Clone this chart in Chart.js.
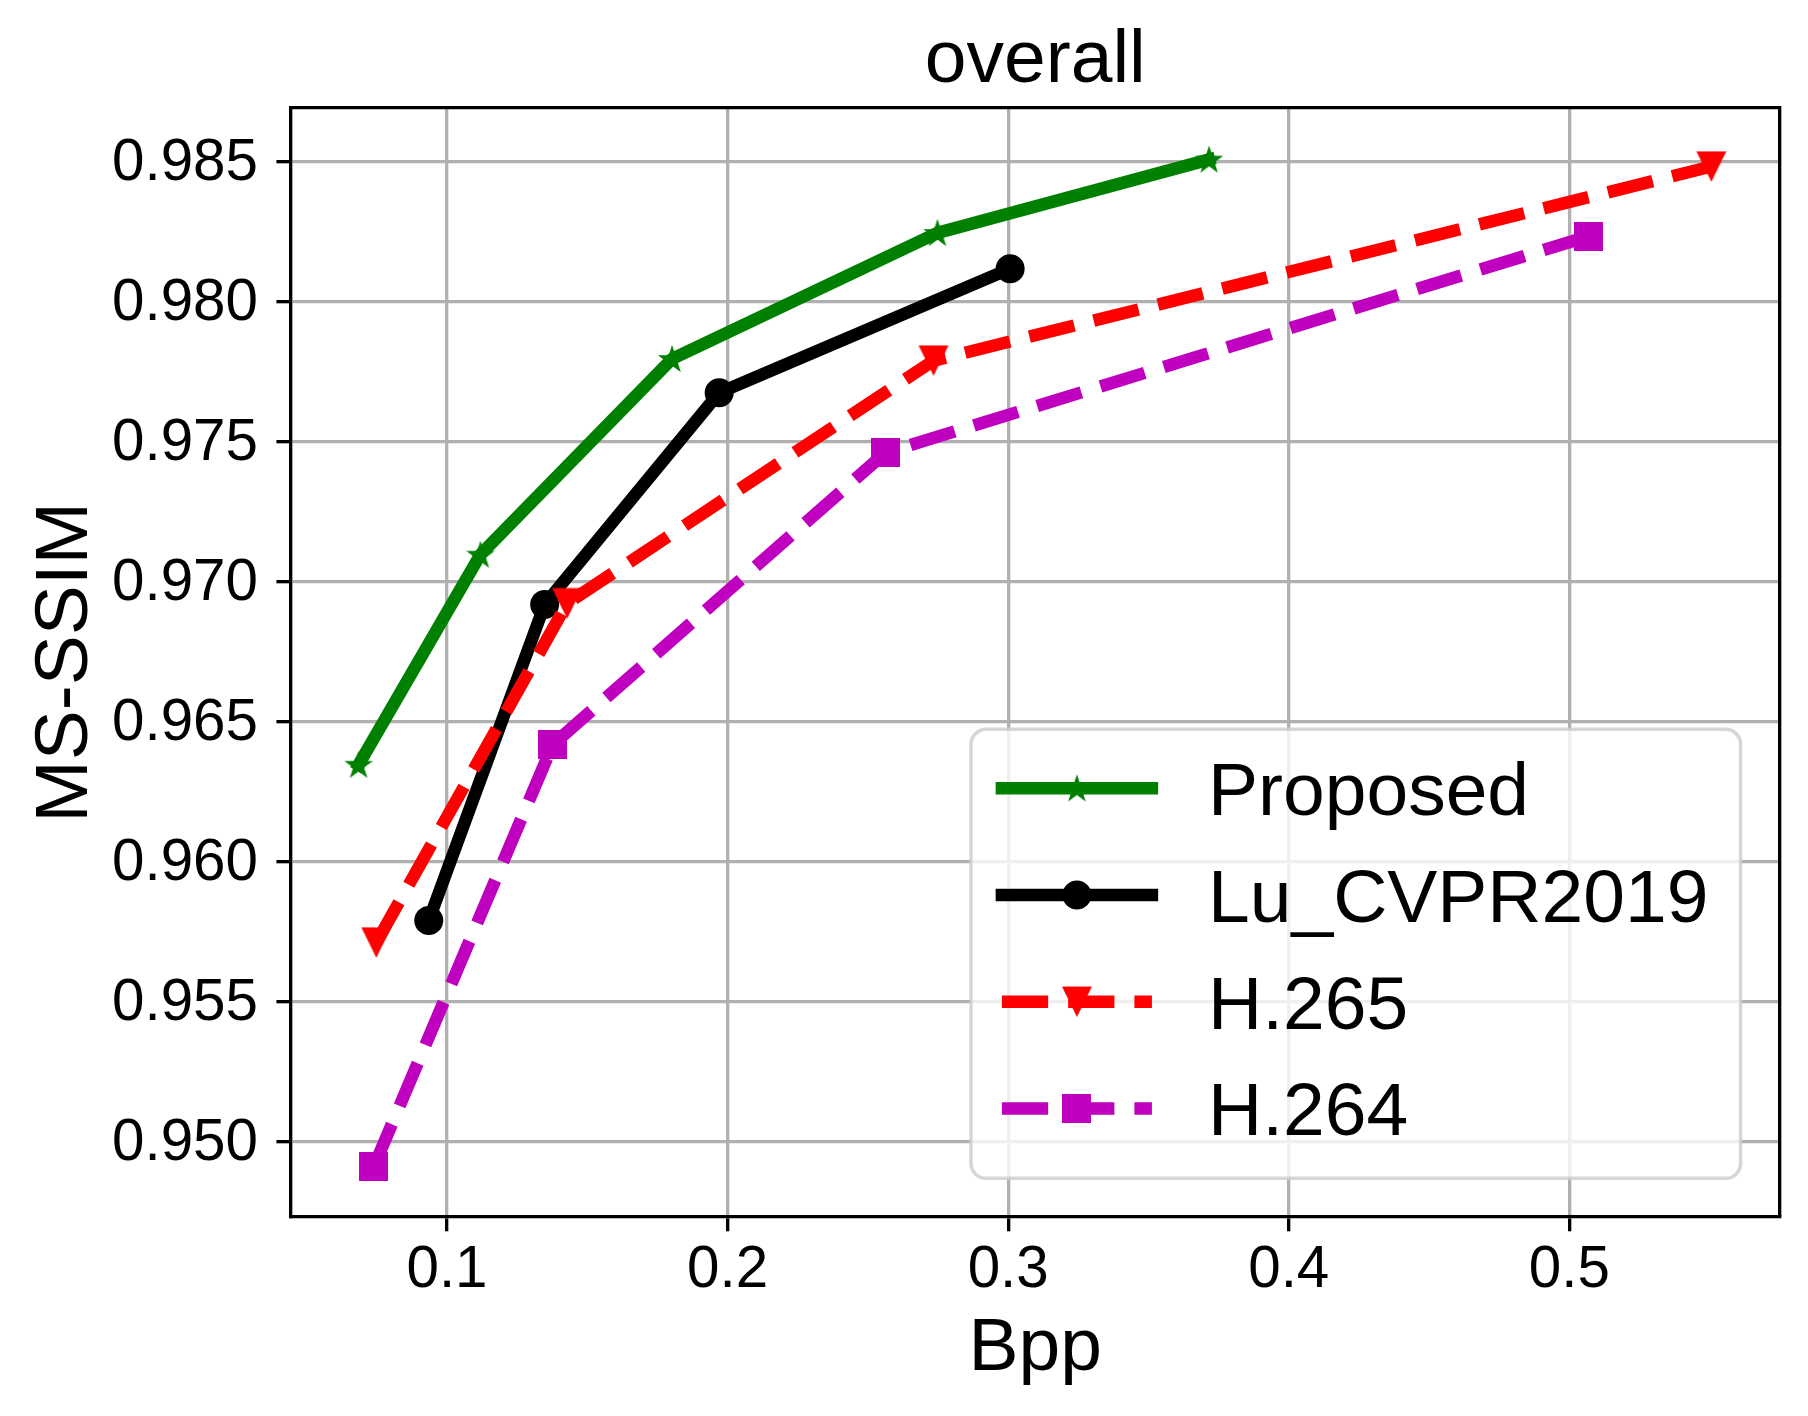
<!DOCTYPE html>
<html>
<head>
<meta charset="utf-8">
<script src="https://cdn.jsdelivr.net/npm/chart.js@4.4.1/dist/chart.umd.min.js"></script>
<style>
html, body { margin: 0; padding: 0; background: #ffffff; }
#c { display: block; }
</style>
</head>
<body>
<canvas id="c" width="1808" height="1416"></canvas>
<script>
// ---- data ----
const seriesNames = ['Proposed', 'Lu_CVPR2019', 'H.265', 'H.264'];
const proposedX = [0.0685, 0.1119, 0.1802, 0.2748, 0.3716];
const proposedY = [0.96345, 0.97095, 0.97794, 0.98244, 0.98506];
const luX = [0.0935, 0.1348, 0.1970, 0.3007];
const luY = [0.95789, 0.96917, 0.97673, 0.98116];
const h265X = [0.0748, 0.1428, 0.2734, 0.5506];
const h265Y = [0.95710, 0.96921, 0.97788, 0.98481];
const h264X = [0.0739, 0.1377, 0.2562, 0.5068];
const h264Y = [0.94909, 0.96417, 0.97459, 0.98232];

const xTicks = [0.1, 0.2, 0.3, 0.4, 0.5];
const xTickLabels = ['0.1', '0.2', '0.3', '0.4', '0.5'];
const yTicks = [0.950, 0.955, 0.960, 0.965, 0.970, 0.975, 0.980, 0.985];
const yTickLabels = ['0.950', '0.955', '0.960', '0.965', '0.970', '0.975', '0.980', '0.985'];

const titleText = 'overall';
const xTitle = 'Bpp';
const yTitle = 'MS-SSIM';

// ---- styling ----
const FONT = '"Liberation Sans", Arial, Helvetica, sans-serif';
const GREEN = '#008000', BLACK = '#000000', RED = '#ff0000', MAGENTA = '#bf00bf';
const LW = 12.5;
const DASH = [46.25, 20];
const GRID = '#b0b0b0';
const GRID_W = 3.33;

function markerCanvas(size, color, drawFn) {
  const cv = document.createElement('canvas');
  cv.width = size; cv.height = size;
  const c = cv.getContext('2d');
  c.fillStyle = color;
  drawFn(c, size / 2);
  return cv;
}
const starMarker = markerCanvas(34, GREEN, (c, m) => {
  const R = 15, r = R * 0.382;
  c.beginPath();
  for (let k = 0; k < 10; k++) {
    const a = -Math.PI / 2 + k * Math.PI / 5;
    const rr = (k % 2 === 0) ? R : r;
    const px = m + rr * Math.cos(a), py = m + 1 + rr * Math.sin(a);
    if (k === 0) c.moveTo(px, py); else c.lineTo(px, py);
  }
  c.closePath(); c.fill();
});
const triMarker = markerCanvas(32, RED, (c, m) => {
  c.beginPath();
  c.moveTo(m - 15, m - 15.3);
  c.lineTo(m + 15, m - 15.3);
  c.lineTo(m, m + 15.3);
  c.closePath(); c.fill();
});
const sqMarker = markerCanvas(29, MAGENTA, (c, m) => {
  c.fillRect(0, 0, 29, 29);
});

function pts(xs, ys) { return xs.map((x, i) => ({ x: x, y: ys[i] })); }

const datasets = [
  { label: seriesNames[0], data: pts(proposedX, proposedY), borderColor: GREEN, backgroundColor: GREEN,
    borderWidth: LW, borderDash: [], borderCapStyle: 'square', borderJoinStyle: 'round',
    pointStyle: starMarker, pointRadius: 15, order: 4 },
  { label: seriesNames[1], data: pts(luX, luY), borderColor: BLACK, backgroundColor: BLACK,
    borderWidth: LW, borderDash: [], borderCapStyle: 'square', borderJoinStyle: 'round',
    pointStyle: 'circle', pointRadius: 14.5, pointBorderWidth: 0, order: 3 },
  { label: seriesNames[2], data: pts(h265X, h265Y), borderColor: RED, backgroundColor: RED,
    borderWidth: LW, borderDash: DASH, borderCapStyle: 'butt', borderJoinStyle: 'round',
    pointStyle: triMarker, pointRadius: 15, order: 2 },
  { label: seriesNames[3], data: pts(h264X, h264Y), borderColor: MAGENTA, backgroundColor: MAGENTA,
    borderWidth: LW, borderDash: DASH, borderCapStyle: 'butt', borderJoinStyle: 'round',
    pointStyle: sqMarker, pointRadius: 15, order: 1 }
];
datasets.forEach(d => {
  d.xAxisID = 'x'; d.yAxisID = 'y'; d.tension = 0; d.fill = false;
  d.pointHoverRadius = d.pointRadius; d.pointBorderColor = d.borderColor;
  d.pointBackgroundColor = d.backgroundColor;
  if (d.pointBorderWidth === undefined) d.pointBorderWidth = 0;
});

// legend drawn in matplotlib style, reading the dataset styles
const legendPlugin = {
  id: 'mplLegend',
  afterDraw(chart) {
    const ctx = chart.ctx;
    const L = 971, T = 729.3, Rt = 1740.6, B = 1178.3, rad = 15;
    ctx.save();
    ctx.globalAlpha = 0.8;
    ctx.beginPath();
    ctx.moveTo(L + rad, T);
    ctx.lineTo(Rt - rad, T); ctx.arcTo(Rt, T, Rt, T + rad, rad);
    ctx.lineTo(Rt, B - rad); ctx.arcTo(Rt, B, Rt - rad, B, rad);
    ctx.lineTo(L + rad, B); ctx.arcTo(L, B, L, B - rad, rad);
    ctx.lineTo(L, T + rad); ctx.arcTo(L, T, L + rad, T, rad);
    ctx.closePath();
    ctx.fillStyle = '#ffffff'; ctx.fill();
    ctx.strokeStyle = '#cccccc'; ctx.lineWidth = 3.5; ctx.stroke();
    ctx.globalAlpha = 1;
    const x0 = 1001.9, x1 = 1151.9, xm = (x0 + x1) / 2;
    chart.data.datasets.forEach((ds, i) => {
      const y = 788.3 + i * 106.7;
      ctx.beginPath();
      ctx.strokeStyle = ds.borderColor; ctx.lineWidth = ds.borderWidth;
      ctx.setLineDash(ds.borderDash || []); ctx.lineCap = ds.borderCapStyle;
      ctx.moveTo(x0, y); ctx.lineTo(x1, y); ctx.stroke();
      ctx.setLineDash([]);
      const ps = ds.pointStyle;
      if (ps instanceof HTMLCanvasElement) {
        ctx.drawImage(ps, xm - ps.width / 2, y - ps.height / 2);
      } else {
        ctx.beginPath(); ctx.fillStyle = ds.backgroundColor;
        ctx.arc(xm, y, ds.pointRadius, 0, Math.PI * 2); ctx.fill();
      }
      ctx.fillStyle = '#000000';
      ctx.font = '75px ' + FONT;
      ctx.textBaseline = 'alphabetic'; ctx.textAlign = 'left';
      ctx.fillText(ds.label, 1208, y + 27);
    });
    ctx.restore();
  }
};

Chart.defaults.color = '#000000';
Chart.defaults.font.family = FONT;

new Chart(document.getElementById('c'), {
  type: 'line',
  data: { datasets: datasets },
  options: {
    responsive: false,
    animation: false,
    devicePixelRatio: 1,
    layout: { padding: 0 },
    plugins: { legend: { display: false }, tooltip: { enabled: false }, title: { display: false } },
    scales: {
      x: {
        type: 'linear', position: 'bottom', min: 0.0444, max: 0.5749,
        afterBuildTicks: s => { s.ticks = xTicks.map(v => ({ value: v })); },
        afterFit: s => { s.height = 199.3; },
        ticks: { font: { size: 58.33 }, color: '#000', padding: 4.5, maxRotation: 0, autoSkip: false,
                 callback: (v, i) => xTickLabels[i] },
        grid: { color: GRID, lineWidth: GRID_W, drawTicks: true, tickLength: 14.6, tickColor: '#000', tickWidth: 3.33 },
        border: { display: true, color: '#000', width: 3.33 },
        title: { display: true, text: xTitle, font: { size: 75 }, color: '#000', padding: { top: 0, bottom: 22 } }
      },
      y: {
        type: 'linear', position: 'left', min: 0.94731, max: 0.98690,
        afterBuildTicks: s => { s.ticks = yTicks.map(v => ({ value: v })); },
        afterFit: s => { s.width = 291; },
        ticks: { font: { size: 58.33 }, color: '#000', padding: 18.4, autoSkip: false, labelOffset: 3,
                 callback: (v, i) => yTickLabels[i] },
        grid: { color: GRID, lineWidth: GRID_W, drawTicks: true, tickLength: 14.6, tickColor: '#000', tickWidth: 3.33 },
        border: { display: true, color: '#000', width: 3.33 },
        title: { display: true, text: yTitle, font: { size: 75 }, color: '#000', padding: { top: 21, bottom: 0 } }
      },
      x2: {
        type: 'linear', position: 'top', min: 0.0444, max: 0.5749,
        afterFit: s => { s.height = 108; },
        ticks: { display: false },
        grid: { display: false, drawTicks: false },
        border: { display: true, color: '#000', width: 3.33 },
        title: { display: true, text: titleText, font: { size: 75 }, color: '#000', padding: { top: 16.5, bottom: 0 } }
      },
      y2: {
        type: 'linear', position: 'right', min: 0.94731, max: 0.98690,
        afterFit: s => { s.width = 28.5; },
        ticks: { display: false },
        grid: { display: false, drawTicks: false },
        border: { display: true, color: '#000', width: 3.33 }
      }
    }
  },
  plugins: [legendPlugin]
});
</script>
</body>
</html>
